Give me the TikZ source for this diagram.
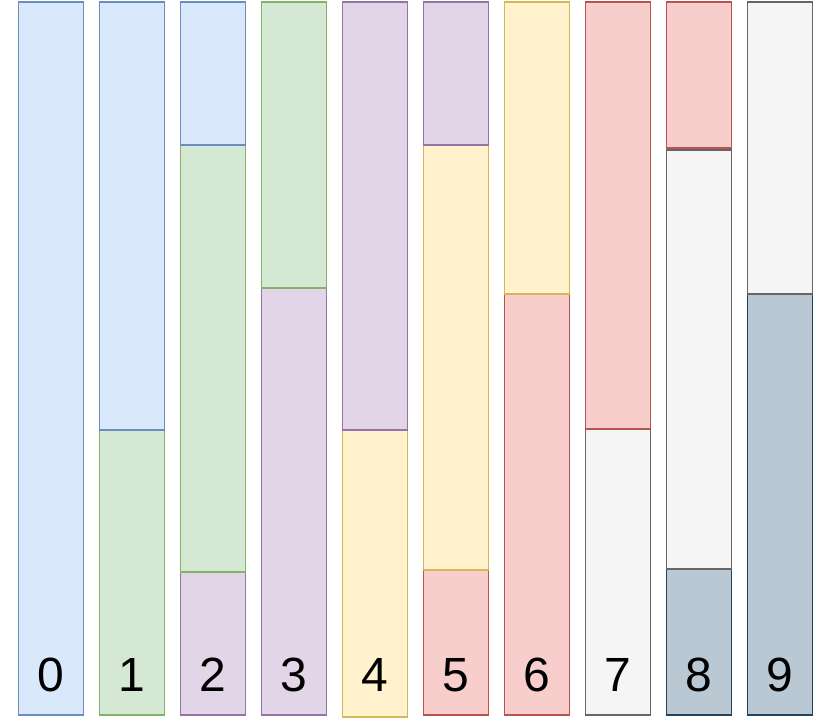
\documentclass[tikz,border=0pt]{standalone}
\usepackage{fontspec}
\setmainfont{Liberation Sans}
\definecolor{blueF}{HTML}{DAE8FC}\definecolor{blueD}{HTML}{6C8EBF}
\definecolor{greenF}{HTML}{D5E8D4}\definecolor{greenD}{HTML}{82B366}
\definecolor{purpleF}{HTML}{E1D5E7}\definecolor{purpleD}{HTML}{9673A6}
\definecolor{yellowF}{HTML}{FFF2CC}\definecolor{yellowD}{HTML}{D6B656}
\definecolor{redF}{HTML}{F8CECC}\definecolor{redD}{HTML}{B85450}
\definecolor{grayF}{HTML}{F5F5F5}\definecolor{grayD}{HTML}{666666}
\definecolor{darkF}{HTML}{BAC8D3}\definecolor{darkD}{HTML}{23445D}
\newcommand\barseg[5]{%
 \pgfmathsetmacro\segx{18.3+81*#2+32.5}%
 \pgfmathsetmacro\segy{(#3+#4)/2}%
 \pgfmathsetmacro\segh{#4-#3}%
 \node[seg,#5,minimum height=\segh pt] (#1) at (\segx,\segy) {};}
\newcommand\barlabel[2]{%
 \pgfmathsetmacro\segx{18.3+81*#2+32.5}%
 \node[lbl] (#1) at (\segx,675) {#2};}
\begin{document}
\begin{tikzpicture}[x=1pt,y=-1pt,
  seg/.style={rectangle,draw,line width=1.3pt,minimum width=65pt,inner sep=0pt,outer sep=0pt},
  sblue/.style={fill=blueF,draw=blueD},
  sgreen/.style={fill=greenF,draw=greenD},
  spurple/.style={fill=purpleF,draw=purpleD},
  syellow/.style={fill=yellowF,draw=yellowD},
  sred/.style={fill=redF,draw=redD},
  sgray/.style={fill=grayF,draw=grayD},
  sdark/.style={fill=darkF,draw=darkD},
  lbl/.style={inner sep=0pt,font=\fontsize{48}{48}\selectfont}]
\useasboundingbox (0,0) rectangle (831,725);
% bar 0
\barseg{b0a}{0}{2}{715}{sblue}
% bar 1
\barseg{b1b}{1}{430}{715}{sgreen}
\barseg{b1a}{1}{2}{430}{sblue}
% bar 2
\barseg{b2c}{2}{572}{715}{spurple}
\barseg{b2b}{2}{145}{572}{sgreen}
\barseg{b2a}{2}{2}{145}{sblue}
% bar 3
\barseg{b3b}{3}{288}{715}{spurple}
\barseg{b3a}{3}{2}{288}{sgreen}
% bar 4
\barseg{b4b}{4}{430}{717}{syellow}
\barseg{b4a}{4}{2}{430}{spurple}
% bar 5
\barseg{b5c}{5}{570}{715}{sred}
\barseg{b5b}{5}{145}{570}{syellow}
\barseg{b5a}{5}{2}{145}{spurple}
% bar 6
\barseg{b6b}{6}{294}{715}{sred}
\barseg{b6a}{6}{2}{294}{syellow}
% bar 7
\barseg{b7b}{7}{429}{715}{sgray}
\barseg{b7a}{7}{2}{429}{sred}
% bar 8
\barseg{b8c}{8}{569}{715}{sdark}
\barseg{b8b}{8}{150}{569}{sgray}
\barseg{b8a}{8}{2}{148}{sred}
% bar 9
\barseg{b9b}{9}{294}{715}{sdark}
\barseg{b9a}{9}{2}{294}{sgray}
% labels
\barlabel{l0}{0}\barlabel{l1}{1}\barlabel{l2}{2}\barlabel{l3}{3}\barlabel{l4}{4}
\barlabel{l5}{5}\barlabel{l6}{6}\barlabel{l7}{7}\barlabel{l8}{8}\barlabel{l9}{9}
\end{tikzpicture}
\end{document}
